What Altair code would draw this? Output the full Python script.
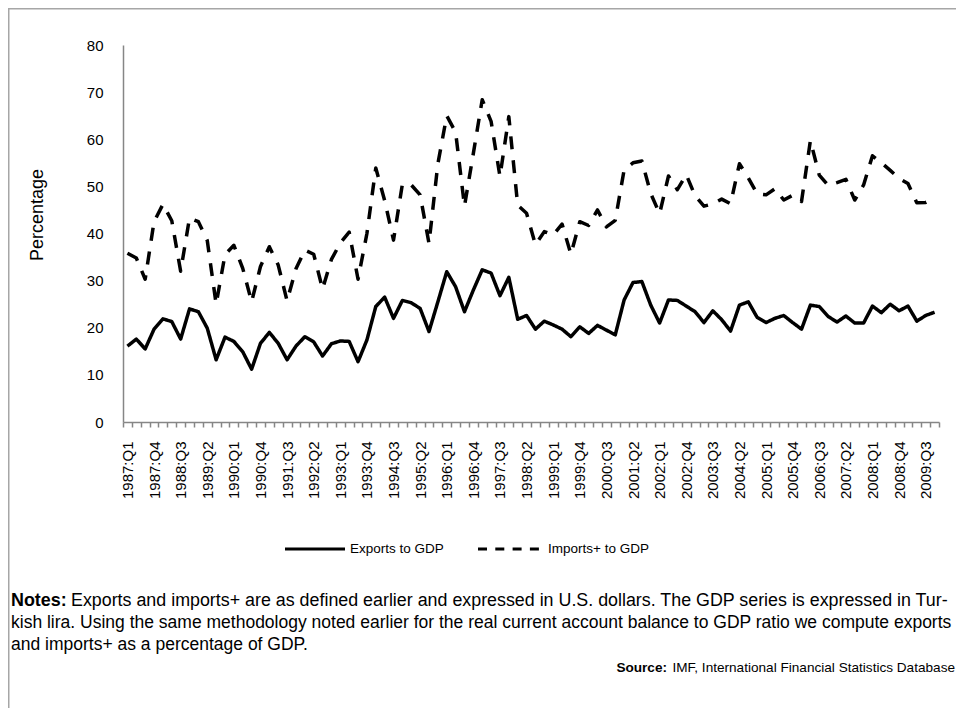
import altair as alt
import pandas as pd

FONT = "Liberation Sans, Arial, sans-serif"

years = list(range(1987, 2010))
quarters = ["Q1", "Q2", "Q3", "Q4"]
periods = [f"{y}:{q}" for y in years for q in quarters]
shown_labels = periods[::3]

series_names = ["Exports to GDP", "Imports+ to GDP"]

exports = [16.1, 17.6, 15.5, 19.7, 21.9, 21.3, 17.6, 24.0, 23.4, 19.9,
           13.2, 18.0, 17.1, 14.9, 11.2, 16.7, 19.0, 16.7, 13.2, 16.1,
           18.1, 17.0, 14.0, 16.6, 17.2, 17.1, 12.8, 17.4, 24.5, 26.5,
           22.0, 25.8, 25.3, 24.1, 19.2, 25.5, 31.9, 28.7, 23.4, 28.0,
           32.3, 31.6, 26.8, 30.7, 21.8, 22.6, 19.7, 21.4, 20.6, 19.7,
           18.1, 20.2, 18.8, 20.5, 19.5, 18.5, 25.9, 29.6, 29.8, 24.8,
           21.0, 25.9, 25.8, 24.6, 23.4, 21.1, 23.6, 21.7, 19.3, 24.8,
           25.5, 22.2, 21.1, 22.0, 22.6, 21.1, 19.7, 24.8, 24.5, 22.4,
           21.2, 22.5, 21.0, 21.0, 24.6, 23.2, 25.0, 23.6, 24.6, 21.4,
           22.6, 23.3]

imports = [35.8, 34.8, 30.3, 42.5, 46.2, 42.7, 32.0, 43.3, 42.5, 38.5,
           25.0, 35.5, 37.5, 32.6, 25.5, 33.0, 37.2, 33.3, 25.7, 32.5,
           36.5, 35.6, 28.2, 34.5, 38.0, 40.3, 30.3, 40.0, 53.9, 47.0,
           38.6, 50.5, 50.3, 48.2, 37.9, 54.8, 65.0, 61.5, 45.8, 57.0,
           68.4, 63.8, 52.1, 64.8, 46.0, 44.3, 37.6, 40.4, 39.7, 42.0,
           35.6, 42.5, 41.7, 45.0, 41.4, 42.8, 53.5, 55.0, 55.4, 48.5,
           44.2, 52.2, 49.3, 52.5, 48.0, 45.8, 46.3, 47.3, 46.3, 54.8,
           51.8, 48.4, 48.2, 49.5, 47.1, 48.1, 46.8, 59.7, 52.4, 50.2,
           50.8, 51.5, 47.1, 50.3, 56.5, 55.0, 53.4, 51.7, 50.6, 46.5,
           46.6, 47.5]

y_ticks = list(range(0, 81, 10))

notes_lines = [
    "Exports and imports+ are as defined earlier and expressed in U.S. dollars. The GDP series is expressed in Tur-",
    "kish lira. Using the same methodology noted earlier for the real current account balance to GDP ratio we compute exports",
    "and imports+ as a percentage of GDP.",
]
source_text = " IMF, International Financial Statistics Database"

df = pd.DataFrame({
    "period": periods * 2,
    "series": [series_names[0]] * len(periods) + [series_names[1]] * len(periods),
    "value": exports + imports,
})

W, H = 816, 377
OX, OY = 123, 45  # page position of plot area


def vx(px):
    return px - OX


def vy(py):
    return py - OY


label_expr = "indexof([" + ",".join(f"'{s}'" for s in shown_labels) + "], datum.value) >= 0 ? datum.value : ''"

lines = alt.Chart(df).mark_line(color="black", strokeWidth=3.5, strokeJoin="round").encode(
    x=alt.X("period:N", sort=periods,
            scale=alt.Scale(type="band", paddingInner=0, paddingOuter=0),
            axis=alt.Axis(title=None, labelAngle=270, labelFont=FONT, labelFontSize=15,
                          labelColor="#000000", labelPadding=14, tickSize=5,
                          tickColor="#868686", tickWidth=1.5, domainColor="#868686",
                          domainWidth=1.5, tickBand="extent", labelExpr=label_expr,
                          labelOverlap=False, grid=False)),
    y=alt.Y("value:Q", scale=alt.Scale(domain=[0, 80], nice=False),
            axis=alt.Axis(title=None, values=y_ticks, tickSize=0, labelPadding=20,
                          labelFont=FONT, labelFontSize=15, labelColor="#000000",
                          domainColor="#868686", domainWidth=1.5, grid=False)),
    strokeDash=alt.StrokeDash("series:N",
                              scale=alt.Scale(domain=series_names, range=[[1, 0], [13, 11]]),
                              legend=None),
)

ytitle = alt.Chart(pd.DataFrame({"t": ["Percentage"]})).mark_text(
    angle=270, font=FONT, fontSize=18, color="#000000", align="center", baseline="middle"
).encode(x=alt.value(vx(38)), y=alt.value(vy(215)), text="t:N")

leg_solid = alt.Chart(pd.DataFrame({"s": [series_names[0]]})).mark_rule(
    color="black", strokeWidth=3).encode(
    x=alt.value(vx(285)), x2=alt.value(vx(345)), y=alt.value(vy(549)))
leg_dash = alt.Chart(pd.DataFrame({"s": [series_names[1]]})).mark_rule(
    color="black", strokeWidth=3, strokeDash=[9, 8.3]).encode(
    x=alt.value(vx(478)), x2=alt.value(vx(540)), y=alt.value(vy(549)))
leg_t1 = alt.Chart(pd.DataFrame({"t": [series_names[0]]})).mark_text(
    font=FONT, fontSize=13.5, align="left", baseline="middle", color="#000000").encode(
    x=alt.value(vx(350)), y=alt.value(vy(549)), text="t:N")
leg_t2 = alt.Chart(pd.DataFrame({"t": [series_names[1]]})).mark_text(
    font=FONT, fontSize=13.5, align="left", baseline="middle", color="#000000").encode(
    x=alt.value(vx(548)), y=alt.value(vy(549)), text="t:N")

# frame (gray border along the top and left edges)
frame_top = alt.Chart(pd.DataFrame({"s": ["frame"]})).mark_rule(
    color="#a6a6a6", strokeWidth=1.5).encode(
    x=alt.value(-OX + 8), x2=alt.value(W + 17), y=alt.value(-OY + 8.75))
frame_left = alt.Chart(pd.DataFrame({"s": ["frame"]})).mark_rule(
    color="#a6a6a6", strokeWidth=1.5).encode(
    x=alt.value(-OX + 8.75), y=alt.value(-OY + 8), y2=alt.value(H + 286))

notes_bold = alt.Chart(pd.DataFrame({"t": ["Notes:"]})).mark_text(
    font=FONT, fontSize=17.9, fontWeight="bold", align="left", baseline="middle", color="#000000").encode(
    x=alt.value(vx(11)), y=alt.value(vy(601)), text="t:N")
notes_parts = []
for i, (ln, lx, fs) in enumerate(zip(notes_lines, [71, 11, 11], [17.85, 17.5, 17.5])):
    notes_parts.append(alt.Chart(pd.DataFrame({"t": [ln]})).mark_text(
        font=FONT, fontSize=fs, align="left", baseline="middle", color="#000000").encode(
        x=alt.value(vx(lx)), y=alt.value(vy(601 + 22 * i)), text="t:N"))

src_bold = alt.Chart(pd.DataFrame({"t": ["Source:"]})).mark_text(
    font=FONT, fontSize=13.6, fontWeight="bold", align="right", baseline="middle", color="#000000").encode(
    x=alt.value(vx(955 - 288)), y=alt.value(vy(668)), text="t:N")
src_txt = alt.Chart(pd.DataFrame({"t": [source_text]})).mark_text(
    font=FONT, fontSize=13.6, align="right", baseline="middle", color="#000000").encode(
    x=alt.value(vx(955)), y=alt.value(vy(668)), text="t:N")

chart = alt.layer(
    frame_top, frame_left, lines, ytitle, leg_solid, leg_dash, leg_t1, leg_t2,
    notes_bold, *notes_parts, src_bold, src_txt
).properties(
    width=W, height=H,
    padding={"left": 115, "top": 37, "right": 17, "bottom": 286},
    autosize=alt.AutoSizeParams(type="none"),
    background="white",
).configure_view(stroke=None)

chart.save("out.html", embed_options={"renderer": "svg", "actions": False})
